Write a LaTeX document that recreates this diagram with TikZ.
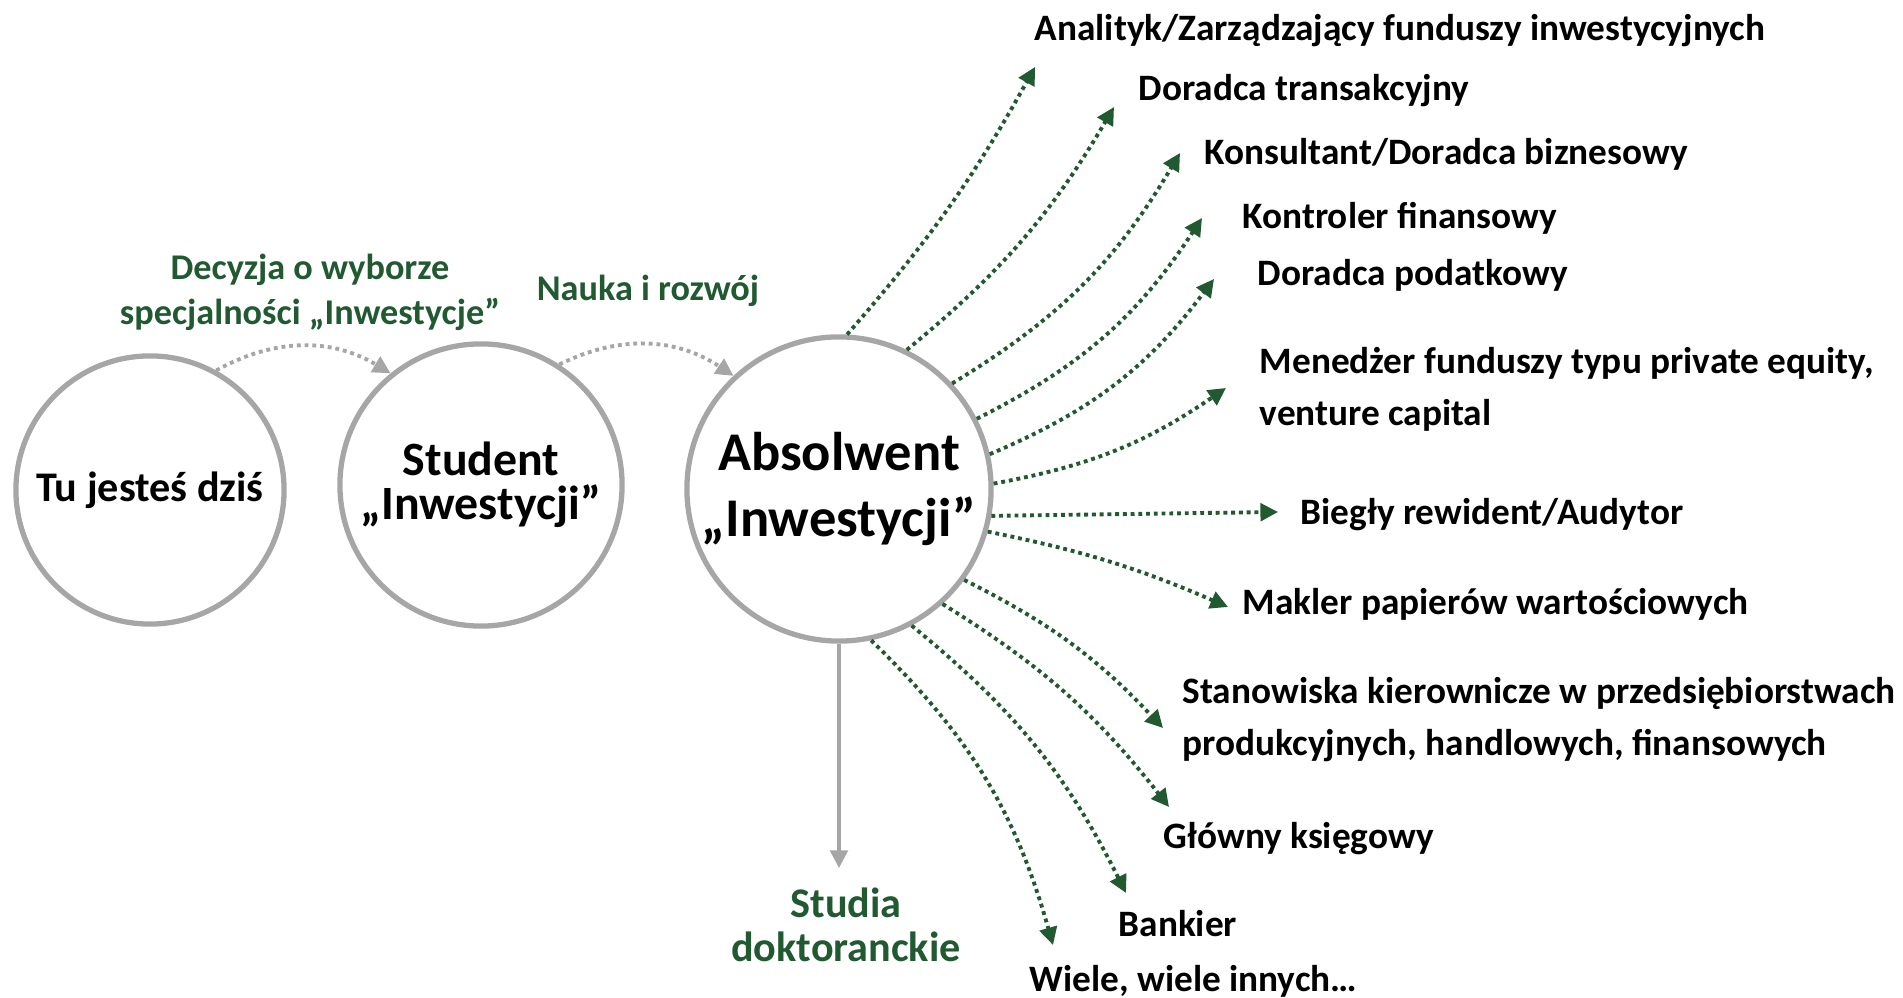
\documentclass[tikz,border=0pt]{standalone}
\usepackage{fontspec}
\setmainfont{Carlito}
\usetikzlibrary{arrows.meta}
\definecolor{darkgreen}{RGB}{33,89,49}
\definecolor{ringgray}{RGB}{166,166,166}

\begin{document}
\begin{tikzpicture}[x=0.01cm,y=0.01cm]
  \tikzset{stage/.style={draw=ringgray,line width=1.5pt,circle,inner sep=0pt,align=center}}
  \tikzset{greenlabel/.style={darkgreen,align=center,font=\fontsize{10.3pt}{12.8pt}\selectfont\bfseries}}
  \tikzset{job/.style={anchor=west,inner sep=0pt,align=left,font=\fontsize{10.6pt}{14.8pt}\selectfont\bfseries}}
  \tikzset{career/.style={-{Triangle[length=5pt,width=5pt]},darkgreen,line width=1.1pt,dash pattern=on 1.1pt off 1.1pt}}
  \tikzset{progress/.style={-{Triangle[length=5pt,width=5pt]},ringgray,line width=1.1pt,dash pattern=on 1.1pt off 1.1pt}}
  \useasboundingbox (0,0) rectangle (1903,-998);
  % stages
  \node[stage,minimum size=2.68cm,font=\fontsize{12pt}{14pt}\selectfont\bfseries] (today) at (150,-490) {Tu jesteś dziś};
  \node[stage,minimum size=2.82cm,font=\fontsize{13.6pt}{12.6pt}\selectfont\bfseries] (student) at (481,-485) {Student\\„Inwestycji”};
  \node[stage,minimum size=3.04cm,font=\fontsize{15.5pt}{18.5pt}\selectfont\bfseries] (graduate) at (839,-489) {Absolwent\\„Inwestycji”};
  \node[greenlabel] (choice) at (310,-292) {Decyzja o wyborze\\specjalności „Inwestycje”};
  \node[greenlabel] (learning) at (648,-291) {Nauka i rozwój};
  \draw[progress] (today.61) to[bend left=30] (student.129);
  \draw[progress] (student.57) to[bend left=30] (graduate.133);
  % doctorate
  \node[greenlabel,font=\fontsize{12pt}{12.5pt}\selectfont\bfseries] (phd) at (846,-925) {Studia\\doktoranckie};
  \coordinate (phdtip) at (839,-868);
  \draw[-{Triangle[length=5pt,width=5pt]},ringgray,line width=1pt] (graduate.south) -- (phdtip);
  % careers
  \node[job] (analyst) at (1034,-31) {Analityk/Zarządzający funduszy inwestycyjnych};
  \node[job] (deal) at (1138,-91) {Doradca transakcyjny};
  \node[job] (consultant) at (1204,-154) {Konsultant/Doradca biznesowy};
  \node[job] (controller) at (1242,-218) {Kontroler finansowy};
  \node[job] (tax) at (1257,-275) {Doradca podatkowy};
  \node[job] (manager) at (1259,-389) {Menedżer funduszy typu private equity,\\venture capital};
  \node[job] (auditor) at (1300,-515) {Biegły rewident/Audytor};
  \node[job] (broker) at (1242,-604) {Makler papierów wartościowych};
  \node[job] (executive) at (1182,-720) {Stanowiska kierownicze w przedsiębiorstwach\\produkcyjnych, handlowych, finansowych};
  \node[job] (accountant) at (1163,-839) {Główny księgowy};
  \node[job] (banker) at (1118,-924) {Bankier};
  \node[job] (others) at (1029,-981) {Wiele, wiele innych…};
  \coordinate (t1) at (1035,-67);
  \coordinate (t2) at (1114,-107);
  \coordinate (t3) at (1180,-153);
  \coordinate (t4) at (1202,-218);
  \coordinate (t5) at (1214,-279);
  \coordinate (t6) at (1226,-388);
  \coordinate (t7) at (1278,-512);
  \coordinate (t8) at (1228,-607);
  \coordinate (t9) at (1163,-728);
  \coordinate (t10) at (1169,-807);
  \coordinate (t11) at (1126,-893);
  \coordinate (t12) at (1053,-945);
  \draw[career] (graduate.87) to[bend right=6] (t1);
  \draw[career] (graduate.64) to[bend right=10] (t2);
  \draw[career] (graduate.43) to[bend right=14] (t3);
  \draw[career] (graduate.27) to[bend right=15] (t4);
  \draw[career] (graduate.13) to[bend right=15] (t5);
  \draw[career] (graduate.2) to[bend right=12] (t6);
  \draw[career] (graduate.-10) -- (t7);
  \draw[career] (graduate.-16) to[bend left=6] (t8);
  \draw[career] (graduate.-36) to[bend left=10] (t9);
  \draw[career] (graduate.-48) to[bend left=10] (t10);
  \draw[career] (graduate.-62) to[bend left=12] (t11);
  \draw[career] (graduate.-78) to[bend left=15] (t12);
\end{tikzpicture}
\end{document}
